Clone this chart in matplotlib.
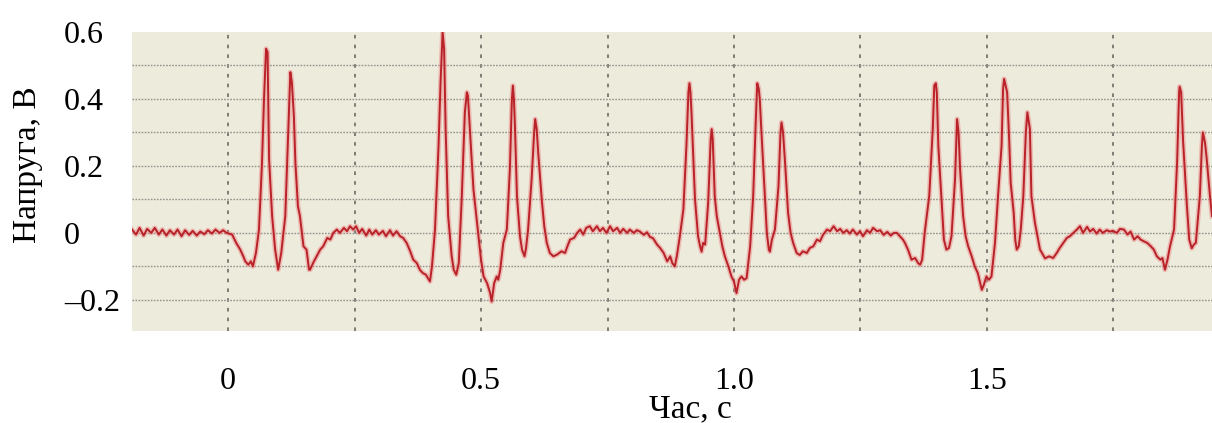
import matplotlib
matplotlib.use("Agg")
import matplotlib.pyplot as plt
from matplotlib.ticker import MultipleLocator, FixedLocator

# ---- data ----
time_s = [
    -0.190, -0.182, -0.175, -0.167, -0.160, -0.152, -0.145, -0.137, -0.130, -0.122,
    -0.115, -0.107, -0.100, -0.092, -0.085, -0.077, -0.070, -0.062, -0.055, -0.047,
    -0.040, -0.032, -0.025, -0.017, -0.010, -0.003,
    0.008, 0.016, 0.024, 0.030, 0.034, 0.040, 0.045, 0.049, 0.055, 0.061,
    0.067, 0.071, 0.075, 0.078, 0.081, 0.087, 0.093, 0.099, 0.105, 0.113,
    0.119, 0.123, 0.126, 0.130, 0.133, 0.138, 0.142, 0.149, 0.155, 0.160,
    0.162, 0.168, 0.175, 0.182, 0.188, 0.196, 0.202, 0.208, 0.215, 0.221,
    0.229, 0.235, 0.241, 0.247, 0.253, 0.259, 0.265, 0.273, 0.279, 0.285,
    0.292, 0.298, 0.306, 0.312, 0.320, 0.326, 0.333, 0.340, 0.346, 0.353,
    0.360, 0.366, 0.373, 0.379, 0.385, 0.391, 0.399, 0.403, 0.409, 0.416,
    0.420, 0.424, 0.427, 0.430, 0.435, 0.442, 0.446, 0.451, 0.456, 0.462,
    0.468, 0.472, 0.474, 0.478, 0.485, 0.495, 0.500, 0.505, 0.512, 0.518,
    0.521, 0.526, 0.531, 0.534, 0.538, 0.544, 0.551, 0.557, 0.561, 0.563,
    0.565, 0.567, 0.571, 0.577, 0.581, 0.586, 0.589, 0.593, 0.600, 0.605,
    0.607, 0.610, 0.613, 0.620, 0.625, 0.630, 0.636, 0.643, 0.650, 0.659,
    0.666, 0.672, 0.676, 0.684, 0.690, 0.696, 0.702, 0.708, 0.715, 0.721,
    0.729, 0.735, 0.741, 0.748, 0.755, 0.761, 0.769, 0.775, 0.781, 0.789,
    0.794, 0.802, 0.808, 0.814, 0.822, 0.828, 0.834, 0.840, 0.848, 0.854,
    0.861, 0.868, 0.874, 0.878, 0.883, 0.887, 0.893, 0.900, 0.906, 0.910,
    0.912, 0.914, 0.916, 0.919, 0.923, 0.929, 0.933, 0.936, 0.939, 0.943,
    0.949, 0.954, 0.956, 0.958, 0.962, 0.966, 0.972, 0.977, 0.982, 0.989,
    0.995, 1.000, 1.005, 1.010, 1.015, 1.020, 1.025, 1.032, 1.038, 1.043,
    1.046, 1.049, 1.051, 1.054, 1.061, 1.065, 1.069, 1.071, 1.075, 1.081,
    1.088, 1.092, 1.094, 1.097, 1.101, 1.107, 1.112, 1.117, 1.124, 1.130,
    1.136, 1.144, 1.150, 1.157, 1.164, 1.170, 1.176, 1.184, 1.190, 1.197,
    1.204, 1.210, 1.216, 1.223, 1.229, 1.235, 1.243, 1.249, 1.255, 1.263,
    1.269, 1.275, 1.283, 1.289, 1.296, 1.303, 1.310, 1.316, 1.322, 1.328,
    1.334, 1.338, 1.344, 1.351, 1.358, 1.364, 1.368, 1.372, 1.377, 1.381,
    1.386, 1.393, 1.396, 1.399, 1.401, 1.404, 1.411, 1.415, 1.420, 1.425,
    1.430, 1.437, 1.440, 1.441, 1.444, 1.447, 1.453, 1.458, 1.463, 1.470,
    1.476, 1.482, 1.490, 1.494, 1.499, 1.504, 1.509, 1.516, 1.522, 1.529,
    1.532, 1.534, 1.537, 1.540, 1.544, 1.547, 1.553, 1.556, 1.559, 1.563,
    1.567, 1.572, 1.577, 1.580, 1.582, 1.585, 1.588, 1.595, 1.600, 1.605,
    1.615, 1.623, 1.631, 1.638, 1.644, 1.651, 1.658, 1.664, 1.671, 1.678,
    1.684, 1.690, 1.698, 1.704, 1.710, 1.717, 1.723, 1.729, 1.737, 1.743,
    1.749, 1.757, 1.763, 1.771, 1.778, 1.784, 1.791, 1.798, 1.804, 1.810,
    1.817, 1.824, 1.830, 1.836, 1.843, 1.847, 1.852, 1.857, 1.862, 1.870,
    1.876, 1.880, 1.881, 1.884, 1.888, 1.895, 1.900, 1.905, 1.909, 1.913,
    1.921, 1.925, 1.927, 1.931, 1.934, 1.941, 1.945,
]
voltage_v = [
    0.010, -0.005, 0.015, -0.008, 0.012, 0.000, 0.015, -0.005, 0.010, -0.008,
    0.008, -0.005, 0.010, -0.010, 0.008, -0.006, 0.006, -0.008, 0.004, -0.004,
    0.008, -0.002, 0.010, 0.000, 0.008, 0.000,
    -0.005, -0.030, -0.050, -0.070, -0.085, -0.095, -0.085, -0.100, -0.060, 0.010,
    0.210, 0.400, 0.550, 0.540, 0.220, 0.050, -0.050, -0.110, -0.060, 0.050,
    0.310, 0.480, 0.450, 0.350, 0.210, 0.080, 0.050, -0.040, -0.050, -0.110,
    -0.110, -0.090, -0.070, -0.050, -0.040, -0.015, -0.020, 0.000, 0.010, 0.000,
    0.015, 0.005, 0.020, 0.010, 0.020, 0.000, 0.012, -0.008, 0.010, -0.005,
    0.008, -0.005, 0.006, -0.010, 0.008, -0.008, 0.005, -0.010, -0.015, -0.030,
    -0.055, -0.080, -0.090, -0.110, -0.120, -0.125, -0.145, -0.100, 0.010, 0.260,
    0.450, 0.600, 0.550, 0.310, 0.050, -0.070, -0.110, -0.125, -0.090, 0.110,
    0.360, 0.420, 0.410, 0.310, 0.130, -0.010, -0.080, -0.130, -0.150, -0.180,
    -0.205, -0.150, -0.130, -0.140, -0.110, -0.030, 0.010, 0.190, 0.400, 0.440,
    0.400, 0.320, 0.110, -0.010, -0.050, -0.070, -0.045, 0.010, 0.160, 0.300,
    0.340, 0.310, 0.240, 0.100, 0.020, -0.030, -0.060, -0.070, -0.065, -0.055,
    -0.060, -0.035, -0.020, -0.015, 0.000, 0.010, -0.005, 0.015, 0.020, 0.005,
    0.020, 0.005, 0.015, 0.000, 0.020, 0.005, 0.015, 0.000, 0.012, 0.000,
    0.010, 0.000, 0.008, 0.004, -0.006, 0.002, -0.012, -0.016, -0.035, -0.045,
    -0.060, -0.085, -0.070, -0.090, -0.100, -0.070, -0.010, 0.070, 0.260, 0.420,
    0.447, 0.420, 0.360, 0.250, 0.100, -0.010, -0.040, -0.056, -0.030, -0.035,
    0.090, 0.280, 0.310, 0.280, 0.110, 0.050, 0.000, -0.040, -0.070, -0.100,
    -0.130, -0.145, -0.180, -0.140, -0.130, -0.140, -0.135, -0.040, 0.110, 0.330,
    0.447, 0.430, 0.400, 0.310, 0.110, 0.000, -0.050, -0.056, -0.020, 0.010,
    0.140, 0.300, 0.330, 0.300, 0.210, 0.060, 0.000, -0.030, -0.060, -0.066,
    -0.055, -0.060, -0.045, -0.040, -0.020, -0.025, -0.006, 0.010, 0.005, 0.020,
    0.005, 0.012, 0.000, 0.008, -0.002, 0.010, -0.005, 0.005, -0.010, 0.008,
    0.000, 0.015, 0.005, 0.008, -0.006, 0.003, -0.008, 0.000, 0.000, -0.010,
    -0.020, -0.030, -0.050, -0.080, -0.075, -0.090, -0.095, -0.080, 0.000, 0.050,
    0.110, 0.310, 0.440, 0.447, 0.420, 0.260, 0.080, -0.020, -0.050, -0.045,
    -0.010, 0.160, 0.300, 0.340, 0.300, 0.190, 0.050, -0.010, -0.040, -0.070,
    -0.100, -0.120, -0.170, -0.155, -0.130, -0.140, -0.130, -0.030, 0.110, 0.260,
    0.430, 0.460, 0.440, 0.420, 0.280, 0.150, 0.060, -0.020, -0.050, -0.040,
    0.010, 0.110, 0.300, 0.360, 0.340, 0.310, 0.110, 0.030, -0.010, -0.050,
    -0.076, -0.070, -0.075, -0.060, -0.045, -0.030, -0.015, -0.010, 0.000, 0.010,
    0.020, 0.000, 0.018, 0.004, 0.012, -0.002, 0.010, 0.000, 0.008, 0.004,
    0.006, 0.000, 0.012, 0.010, -0.005, 0.004, -0.020, -0.010, -0.020, -0.025,
    -0.030, -0.040, -0.050, -0.070, -0.080, -0.075, -0.110, -0.080, -0.040, 0.010,
    0.210, 0.420, 0.437, 0.420, 0.270, 0.090, -0.020, -0.046, -0.035, -0.030,
    0.110, 0.260, 0.300, 0.270, 0.230, 0.110, 0.050,
]
x_ticks = [0, 0.5, 1.0, 1.5]
x_tick_labels = ["0", "0.5", "1.0", "1.5"]
x_grid = [0, 0.25, 0.5, 0.75, 1.0, 1.25, 1.5, 1.75]
y_ticks = [-0.2, 0, 0.2, 0.4, 0.6]
y_tick_labels = ["\u20130.2", "0", "0.2", "0.4", "0.6"]
y_grid = [-0.2, -0.1, 0, 0.1, 0.2, 0.3, 0.4, 0.5]
x_label = "Час, с"
y_label = "Напруга, В"

# ---- figure ----
plt.rcParams["font.family"] = ["Liberation Serif", "DejaVu Serif"]
fig = plt.figure(figsize=(12.12, 4.23), dpi=100)
ax = fig.add_axes([132 / 1212, 1 - 331 / 423, 1 - 132 / 1212, (331 - 32) / 423])
ax.set_facecolor("#ecebdc")
for s in ax.spines.values():
    s.set_visible(False)

ax.set_xlim(-0.19, 1.945)
ax.set_ylim(-0.293, 0.6)

ax.set_xticks(x_ticks, x_tick_labels)
ax.set_yticks(y_ticks, y_tick_labels)
ax.xaxis.set_minor_locator(FixedLocator(x_grid))
ax.yaxis.set_minor_locator(FixedLocator(y_grid))
ax.xaxis.remove_overlapping_locs = False
ax.yaxis.remove_overlapping_locs = False

ax.grid(True, axis="x", which="minor", color="#75756e", linestyle=(0, (2.0, 3.4)), linewidth=1.3)
ax.grid(True, axis="y", which="minor", color="#94948c", linestyle=(0, (1.2, 1.0)), linewidth=1.0)
ax.grid(False, axis="both", which="major")
ax.set_axisbelow(True)

ax.tick_params(axis="both", which="both", length=0, labelsize=23)
ax.tick_params(axis="x", pad=26)
ax.tick_params(axis="y", pad=49)
for lab in ax.get_yticklabels():
    lab.set_horizontalalignment("left")

ax.plot(time_s, voltage_v, color="#ee8080", linewidth=3.6, alpha=0.45, solid_joinstyle="round")
ax.plot(time_s, voltage_v, color="#b82228", linewidth=1.4, solid_joinstyle="round")

fig.text(28 / 1212, 1 - 165 / 423, y_label, rotation=90, ha="center", va="center", fontsize=24)
fig.text(690 / 1212, 1 - 409 / 423, x_label, ha="center", va="center", fontsize=24)

fig.savefig("out.png", dpi=100, facecolor="white")
